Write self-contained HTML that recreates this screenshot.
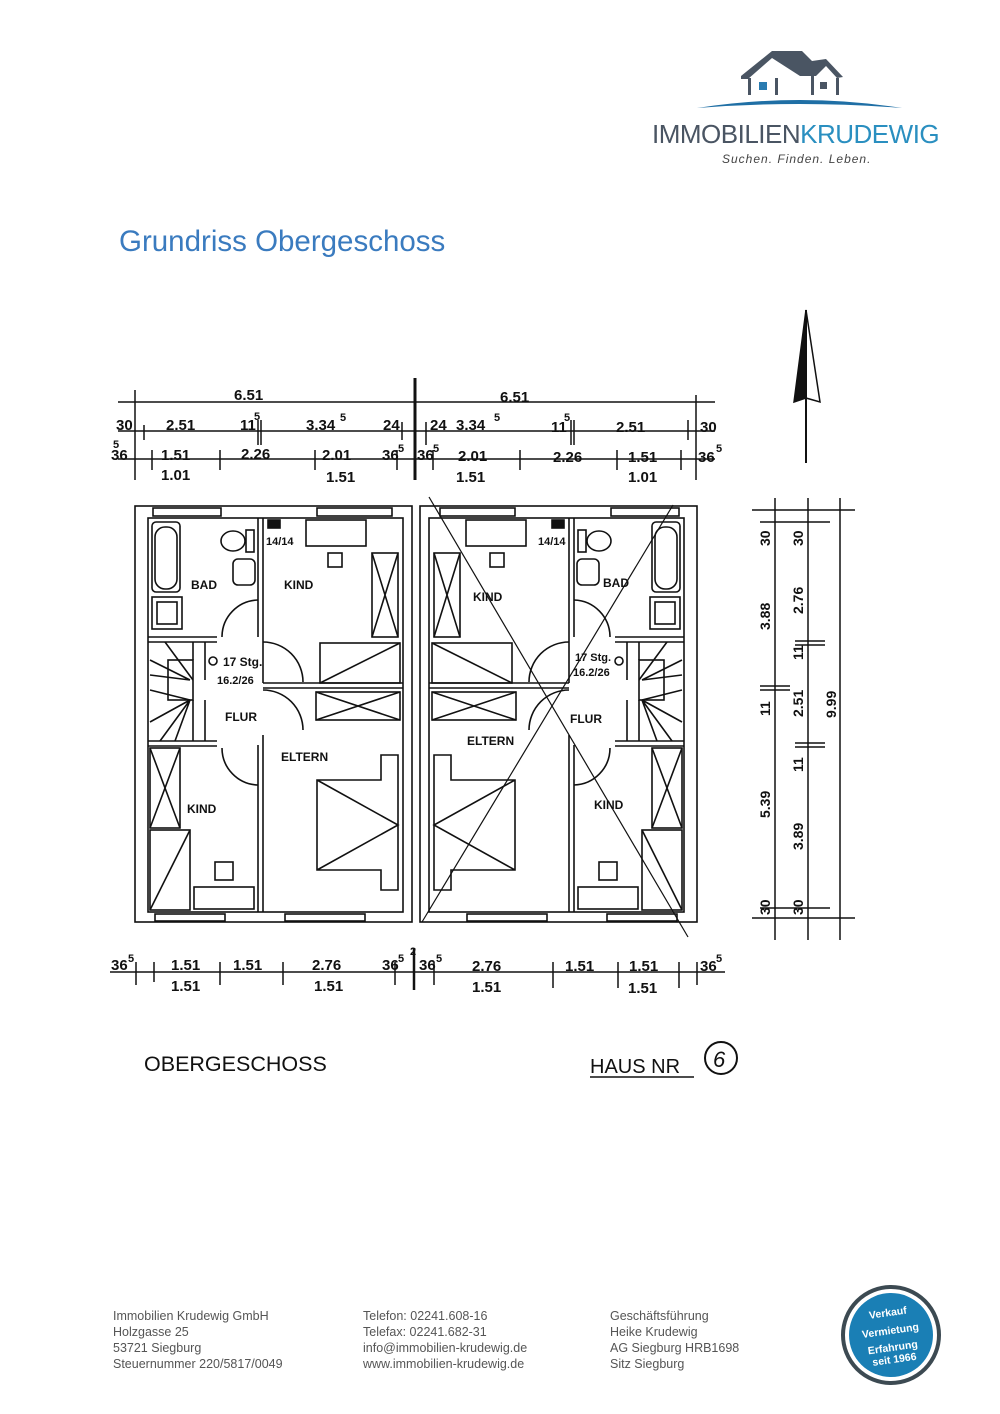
<!DOCTYPE html>
<html><head><meta charset="utf-8"><style>
html,body{margin:0;padding:0;background:#fff}
body{width:1000px;height:1414px;position:relative;overflow:hidden;font-family:"Liberation Sans",sans-serif}
svg{position:absolute;left:0;top:0}
.ft{position:absolute;top:1308px;font-size:12.5px;line-height:16px;color:#555}
</style></head><body>
<svg width="1000" height="1414" viewBox="0 0 1000 1414" xmlns="http://www.w3.org/2000/svg">
<!-- logo -->
<g fill="#4a5563">
<polygon points="741,76 772,51 802,51 812,61 826,59 843,77 837,78 826,66 816,76 800,76 772,58 748,79 741,79"/>
<rect x="748" y="78" width="3" height="17"/><rect x="775" y="78" width="3" height="17"/>
<rect x="811" y="76" width="3" height="19"/><rect x="836" y="78" width="3" height="17"/>
</g>
<rect x="759" y="82" width="8" height="8" fill="#2a7bb0"/><rect x="820" y="82" width="7" height="7" fill="#4a5563"/>
<path d="M697,108 Q800,92 902,108 Q800,100 697,108Z" fill="#1f6fa5"/>
<text x="652" y="143" font-size="26" fill="#4a5563" letter-spacing="-0.5">IMMOBILIEN<tspan fill="#2a8fc0">KRUDEWIG</tspan></text>
<text x="722" y="163" font-size="12" font-style="italic" fill="#444" letter-spacing="1">Suchen. Finden. Leben.</text>
<text x="119" y="251" font-size="29.5" fill="#3a7bbf">Grundriss Obergeschoss</text>

<g stroke="#111" fill="none" stroke-width="1.5">
<!-- north arrow -->
<line x1="806" y1="310" x2="806" y2="463" stroke-width="2"/>
<polygon points="806,310 794,402 806,398" fill="#111"/>
<polygon points="806,310 820,402 806,398"/>
<!-- top dims -->
<line x1="118" y1="402" x2="715" y2="402"/>
<line x1="118" y1="431" x2="715" y2="431"/>
<line x1="118" y1="459" x2="715" y2="459"/>
<line x1="415" y1="378" x2="415" y2="480" stroke-width="3"/>
<line x1="135" y1="390" x2="135" y2="480"/><line x1="696" y1="395" x2="696" y2="480"/>
<line x1="144" y1="425" x2="144" y2="440"/><line x1="258" y1="420" x2="258" y2="445"/><line x1="261" y1="420" x2="261" y2="445"/>
<line x1="402" y1="422" x2="402" y2="440"/><line x1="426" y1="422" x2="426" y2="445"/>
<line x1="571" y1="420" x2="571" y2="445"/><line x1="574" y1="420" x2="574" y2="445"/><line x1="688" y1="420" x2="688" y2="440"/>
<line x1="152" y1="450" x2="152" y2="470"/><line x1="220" y1="450" x2="220" y2="470"/><line x1="315" y1="450" x2="315" y2="470"/>
<line x1="397" y1="450" x2="397" y2="470"/><line x1="433" y1="450" x2="433" y2="470"/><line x1="520" y1="450" x2="520" y2="470"/>
<line x1="617" y1="450" x2="617" y2="470"/><line x1="681" y1="450" x2="681" y2="470"/>
<!-- right dims -->
<line x1="775" y1="498" x2="775" y2="940"/><line x1="808" y1="498" x2="808" y2="940"/><line x1="840" y1="498" x2="840" y2="940"/>
<line x1="752" y1="510" x2="855" y2="510"/><line x1="752" y1="918" x2="855" y2="918"/>
<line x1="760" y1="522" x2="830" y2="522"/><line x1="760" y1="908" x2="830" y2="908"/>
<line x1="760" y1="686" x2="790" y2="686"/><line x1="760" y1="690" x2="790" y2="690"/>
<line x1="795" y1="641" x2="825" y2="641"/><line x1="795" y1="645" x2="825" y2="645"/>
<line x1="795" y1="743" x2="825" y2="743"/><line x1="795" y1="747" x2="825" y2="747"/>
<!-- bottom dims -->
<line x1="110" y1="972" x2="725" y2="972"/>
<line x1="136" y1="962" x2="136" y2="985"/><line x1="154" y1="962" x2="154" y2="982"/><line x1="220" y1="962" x2="220" y2="985"/>
<line x1="283" y1="962" x2="283" y2="985"/><line x1="395" y1="962" x2="395" y2="985"/><line x1="414" y1="948" x2="414" y2="990" stroke-width="2.5"/>
<line x1="434" y1="962" x2="434" y2="985"/><line x1="553" y1="962" x2="553" y2="988"/><line x1="618" y1="962" x2="618" y2="988"/>
<line x1="679" y1="962" x2="679" y2="988"/><line x1="697" y1="962" x2="697" y2="985"/>
</g>

<g font-family="'Liberation Sans',sans-serif" font-size="15" font-weight="bold" fill="#111">
<text x="234" y="400">6.51</text><text x="500" y="402">6.51</text>
<text x="116" y="430">30</text><text x="166" y="430">2.51</text><text x="240" y="430">11</text><text x="306" y="430">3.34</text><text x="383" y="430">24</text>
<text x="430" y="430">24</text><text x="456" y="430">3.34</text><text x="551" y="432">11</text><text x="616" y="432">2.51</text><text x="700" y="432">30</text>
<text x="111" y="460">36</text><text x="161" y="460">1.51</text><text x="241" y="459">2.26</text><text x="322" y="460">2.01</text><text x="382" y="460">36</text><text x="417" y="460">36</text>
<text x="458" y="461">2.01</text><text x="553" y="462">2.26</text><text x="628" y="462">1.51</text><text x="698" y="462">36</text>
<text x="161" y="480">1.01</text><text x="326" y="482">1.51</text><text x="456" y="482">1.51</text><text x="628" y="482">1.01</text>
<text x="111" y="970">36</text><text x="171" y="970">1.51</text><text x="233" y="970">1.51</text><text x="312" y="970">2.76</text><text x="382" y="970">36</text>
<text x="419" y="970">36</text><text x="472" y="971">2.76</text><text x="565" y="971">1.51</text><text x="629" y="971">1.51</text><text x="700" y="971">36</text>
<text x="171" y="991">1.51</text><text x="314" y="991">1.51</text><text x="472" y="992">1.51</text><text x="628" y="993">1.51</text>
</g>
<g font-size="11" font-weight="bold" fill="#111">
<text x="113" y="448">5</text><text x="254" y="420">5</text><text x="340" y="421">5</text><text x="494" y="421">5</text><text x="564" y="421">5</text>
<text x="398" y="452">5</text><text x="433" y="452">5</text><text x="716" y="452">5</text>
<text x="128" y="962">5</text><text x="398" y="962">5</text><text x="410" y="955">2</text><text x="436" y="962">5</text><text x="716" y="962">5</text>
</g>
<g font-size="14" font-weight="bold" fill="#111">
<text transform="translate(770,546) rotate(-90)">30</text><text transform="translate(803,546) rotate(-90)">30</text>
<text transform="translate(770,630) rotate(-90)">3.88</text><text transform="translate(803,614) rotate(-90)">2.76</text>
<text transform="translate(770,716) rotate(-90)">11</text><text transform="translate(803,717) rotate(-90)">2.51</text><text transform="translate(836,718) rotate(-90)">9.99</text>
<text transform="translate(803,660) rotate(-90)">11</text><text transform="translate(803,772) rotate(-90)">11</text>
<text transform="translate(770,818) rotate(-90)">5.39</text><text transform="translate(803,850) rotate(-90)">3.89</text>
<text transform="translate(770,915) rotate(-90)">30</text><text transform="translate(803,915) rotate(-90)">30</text>
</g>

<!-- left unit -->
<g id="u" stroke="#111" fill="none" stroke-width="1.6">
<rect x="135" y="506" width="277" height="416"/>
<rect x="148" y="518" width="255" height="394"/>
<rect x="153" y="508" width="68" height="8"/><rect x="317" y="508" width="75" height="8"/>
<rect x="155" y="914" width="70" height="7"/><rect x="285" y="914" width="80" height="7"/>
<line x1="258" y1="518" x2="258" y2="637"/><line x1="263" y1="518" x2="263" y2="683"/>
<line x1="263" y1="683" x2="403" y2="683"/><line x1="263" y1="688" x2="403" y2="688"/>
<line x1="263" y1="735" x2="263" y2="912"/><line x1="258" y1="745" x2="258" y2="912"/>
<line x1="148" y1="637" x2="217" y2="637"/><line x1="148" y1="642" x2="217" y2="642"/>
<line x1="148" y1="741" x2="217" y2="741"/><line x1="148" y1="746" x2="217" y2="746"/>
<!-- stairs -->
<rect x="168" y="660" width="25" height="40"/>
<path d="M193,642 V660 M205,642 V680 M193,700 V741 M205,700 V741 M150,660 L190,680 M150,675 L190,680 M150,690 L190,700 M160,741 L190,700 M175,741 L190,700 M150,722 L190,700 M165,642 L193,680"/>
<circle cx="213" cy="661" r="4"/>
<!-- doors -->
<path d="M258,600 A37,37 0 0 0 222,637 M263,642 A40,40 0 0 1 303,682 M263,690 A40,40 0 0 1 303,730 M258,785 A37,37 0 0 1 222,748"/>
<!-- bath -->
<rect x="152" y="522" width="28" height="70" rx="4"/><rect x="155" y="527" width="22" height="62" rx="10"/>
<rect x="152" y="597" width="30" height="32"/><rect x="157" y="602" width="20" height="22"/>
<ellipse cx="233" cy="541" rx="12" ry="10"/><rect x="246" y="530" width="8" height="22"/>
<rect x="233" y="559" width="22" height="26" rx="5"/>
<!-- furniture -->
<rect x="306" y="520" width="60" height="26"/><rect x="328" y="553" width="14" height="14"/>
<rect x="372" y="553" width="26" height="84"/><path d="M372,553 L398,637 M398,553 L372,637"/>
<rect x="320" y="643" width="80" height="40"/><path d="M320,683 L400,643"/>
<rect x="316" y="692" width="84" height="28"/><path d="M316,692 L400,720 M400,692 L316,720"/>
<path d="M381,755 H398 V890 H381 V870 H317 V780 H381Z M317,780 L398,825 L317,870"/>
<rect x="150" y="748" width="30" height="80"/><path d="M150,748 L180,828 M180,748 L150,828"/>
<rect x="150" y="830" width="40" height="80"/><path d="M150,910 L190,830"/>
<rect x="215" y="862" width="18" height="18"/><rect x="194" y="887" width="60" height="22"/>
<rect x="268" y="520" width="12" height="8" fill="#111"/>
</g>
<use href="#u" transform="translate(832,0) scale(-1,1)"/>
<g stroke="#111" stroke-width="1.2"><line x1="429" y1="497" x2="688" y2="937"/><line x1="673" y1="505" x2="422" y2="922"/></g>

<g font-size="12" font-weight="bold" fill="#111">
<text x="191" y="589">BAD</text><text x="284" y="589">KIND</text><text x="223" y="666">17 Stg.</text><text x="217" y="684" font-size="11">16.2/26</text>
<text x="225" y="721">FLUR</text><text x="281" y="761">ELTERN</text><text x="187" y="813">KIND</text><text x="266" y="545" font-size="11">14/14</text>
<text x="473" y="601">KIND</text><text x="603" y="587">BAD</text><text x="575" y="661" font-size="11">17 Stg.</text><text x="573" y="676" font-size="11">16.2/26</text>
<text x="570" y="723">FLUR</text><text x="467" y="745">ELTERN</text><text x="594" y="809">KIND</text><text x="538" y="545" font-size="11">14/14</text>
</g>
<text x="144" y="1071" font-size="21.5" fill="#111">OBERGESCHOSS</text>
<text x="590" y="1073" font-size="20" fill="#111">HAUS NR</text>
<line x1="590" y1="1077" x2="694" y2="1077" stroke="#111" stroke-width="1.5"/>
<circle cx="721" cy="1058" r="16" fill="none" stroke="#111" stroke-width="2"/>
<text x="713" y="1067" font-size="22" fill="#111" font-style="italic">6</text>

<!-- badge -->
<circle cx="891" cy="1335" r="48" fill="#fff" stroke="#3c4a52" stroke-width="4"/>
<circle cx="891" cy="1335" r="42" fill="#1a7fb5"/>
<g fill="#fff" font-size="10.5" text-anchor="middle" font-weight="bold" transform="rotate(-8 891 1335)">
<text x="891" y="1316">Verkauf</text><text x="891" y="1334">Vermietung</text><text x="891" y="1351">Erfahrung</text><text x="891" y="1363">seit 1966</text>
</g>
</svg>
<div class="ft" style="left:113px">Immobilien Krudewig GmbH<br>Holzgasse 25<br>53721 Siegburg<br>Steuernummer 220/5817/0049</div>
<div class="ft" style="left:363px">Telefon: 02241.608-16<br>Telefax: 02241.682-31<br>info@immobilien-krudewig.de<br>www.immobilien-krudewig.de</div>
<div class="ft" style="left:610px">Geschäftsführung<br>Heike Krudewig<br>AG Siegburg HRB1698<br>Sitz Siegburg</div>
</body></html>
